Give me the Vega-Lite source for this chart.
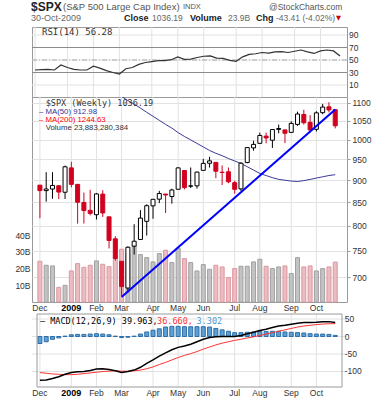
{
"$schema": "https://vega.github.io/schema/vega-lite/v6.json",
"background": "white",
"padding": {"left": 14, "top": 0, "right": 5, "bottom": 2},
"bounds": "flush",
"spacing": 0,
"config": {
  "font": "Liberation Sans",
  "view": {"stroke": "#9a9a9a", "strokeWidth": 1},
  "axis": {"labelFont": "Liberation Sans", "labelFontSize": 8.5, "labelColor": "#333", "gridColor": "#e2e2e2", "gridWidth": 1, "domain": false, "ticks": false, "labelOverlap": false}
},
"datasets": {
"weekly": [
{"week":"2008/12/01","open":888.6,"high":888.6,"low":815.7,"close":876.1,"chg":-20.2,"volume_bn":24.4,"ma50":1262,"rsi":34,"macd":-125,"signal":-103,"hist":-20},
{"week":"2008/12/08","open":876.1,"high":918.9,"low":851.4,"close":879.7,"chg":3.6,"volume_bn":22.0,"ma50":1252,"rsi":34.5,"macd":-124,"signal":-105,"hist":-15},
{"week":"2008/12/15","open":879.7,"high":918.9,"low":857.7,"close":887.9,"chg":8.2,"volume_bn":21.6,"ma50":1242,"rsi":35,"macd":-120,"signal":-107,"hist":-8},
{"week":"2008/12/22","open":887.2,"high":887.4,"low":857.1,"close":872.8,"chg":-15.1,"volume_bn":8.8,"ma50":1232,"rsi":34,"macd":-115,"signal":-108,"hist":-4},
{"week":"2008/12/29","open":872.4,"high":934.7,"low":857.3,"close":931.8,"chg":59.0,"volume_bn":10.0,"ma50":1222,"rsi":42,"macd":-108,"signal":-109,"hist":1},
{"week":"2009/01/05","open":929.2,"high":943.9,"low":883.5,"close":890.4,"chg":-41.4,"volume_bn":18.6,"ma50":1212,"rsi":38,"macd":-103,"signal":-109,"hist":5},
{"week":"2009/01/12","open":890.4,"high":890.4,"low":804.3,"close":850.1,"chg":-40.3,"volume_bn":23.0,"ma50":1200,"rsi":35,"macd":-101,"signal":-108,"hist":6},
{"week":"2009/01/19","open":849.6,"high":871.7,"low":804.5,"close":832.0,"chg":-18.1,"volume_bn":20.8,"ma50":1189,"rsi":34,"macd":-100,"signal":-106,"hist":6},
{"week":"2009/01/26","open":832.5,"high":877.9,"low":821.7,"close":825.9,"chg":-6.1,"volume_bn":22.0,"ma50":1177,"rsi":34,"macd":-97,"signal":-104,"hist":7},
{"week":"2009/02/02","open":823.1,"high":870.8,"low":812.9,"close":868.6,"chg":42.7,"volume_bn":24.6,"ma50":1166,"rsi":40,"macd":-93,"signal":-102,"hist":8},
{"week":"2009/02/09","open":868.2,"high":877.0,"low":818.4,"close":826.8,"chg":-41.8,"volume_bn":22.6,"ma50":1155,"rsi":37,"macd":-92,"signal":-100,"hist":7},
{"week":"2009/02/16","open":818.6,"high":818.6,"low":754.3,"close":770.1,"chg":-56.7,"volume_bn":21.2,"ma50":1144,"rsi":33,"macd":-94,"signal":-99,"hist":5},
{"week":"2009/02/23","open":773.3,"high":778.7,"low":731.0,"close":735.1,"chg":-35.0,"volume_bn":27.0,"ma50":1130,"rsi":30,"macd":-98,"signal":-98,"hist":1},
{"week":"2009/03/02","open":729.6,"high":729.6,"low":666.8,"close":683.4,"chg":-51.7,"volume_bn":31.6,"ma50":1118,"rsi":27.5,"macd":-103,"signal":-99,"hist":-3},
{"week":"2009/03/09","open":680.8,"high":758.3,"low":672.9,"close":756.6,"chg":73.2,"volume_bn":29.0,"ma50":1106,"rsi":36,"macd":-100,"signal":-99,"hist":-2},
{"week":"2009/03/16","open":758.8,"high":803.0,"low":742.4,"close":768.5,"chg":11.9,"volume_bn":33.5,"ma50":1096,"rsi":38,"macd":-96,"signal":-98,"hist":1},
{"week":"2009/03/23","open":772.0,"high":832.9,"low":772.0,"close":815.9,"chg":47.4,"volume_bn":28.4,"ma50":1085,"rsi":43,"macd":-88,"signal":-96,"hist":7},
{"week":"2009/03/30","open":809.1,"high":845.6,"low":779.8,"close":842.5,"chg":26.6,"volume_bn":26.6,"ma50":1073,"rsi":46,"macd":-77,"signal":-92,"hist":13},
{"week":"2009/04/06","open":842.2,"high":856.6,"low":814.5,"close":856.6,"chg":14.1,"volume_bn":24.0,"ma50":1062,"rsi":47.5,"macd":-67,"signal":-87,"hist":18},
{"week":"2009/04/13","open":856.9,"high":875.6,"low":848.2,"close":869.6,"chg":13.0,"volume_bn":29.0,"ma50":1051,"rsi":49,"macd":-56,"signal":-80,"hist":22},
{"week":"2009/04/20","open":868.3,"high":868.3,"low":826.8,"close":866.2,"chg":-3.4,"volume_bn":31.0,"ma50":1040,"rsi":49,"macd":-47,"signal":-74,"hist":27},
{"week":"2009/04/27","open":862.8,"high":880.4,"low":847.1,"close":877.5,"chg":11.3,"volume_bn":23.6,"ma50":1030,"rsi":50.5,"macd":-38,"signal":-67,"hist":29},
{"week":"2009/05/04","open":879.2,"high":930.2,"low":879.2,"close":929.2,"chg":51.7,"volume_bn":32.3,"ma50":1018,"rsi":55,"macd":-31,"signal":-60,"hist":29},
{"week":"2009/05/11","open":922.9,"high":922.9,"low":878.9,"close":882.9,"chg":-46.3,"volume_bn":26.0,"ma50":1008,"rsi":51,"macd":-27,"signal":-54,"hist":28},
{"week":"2009/05/18","open":886.1,"high":930.2,"low":882.0,"close":887.0,"chg":4.1,"volume_bn":23.6,"ma50":999,"rsi":51.5,"macd":-22,"signal":-49,"hist":28},
{"week":"2009/05/25","open":887.0,"high":920.0,"low":880.7,"close":919.1,"chg":32.1,"volume_bn":18.6,"ma50":990,"rsi":54,"macd":-15,"signal":-43,"hist":28},
{"week":"2009/06/01","open":923.3,"high":951.1,"low":923.3,"close":940.1,"chg":21.0,"volume_bn":22.4,"ma50":981,"rsi":56,"macd":-8,"signal":-36,"hist":28},
{"week":"2009/06/08","open":940.4,"high":956.2,"low":930.0,"close":946.2,"chg":6.1,"volume_bn":19.6,"ma50":972,"rsi":56.5,"macd":-3,"signal":-30,"hist":27},
{"week":"2009/06/15","open":942.5,"high":942.5,"low":904.8,"close":921.2,"chg":-25.0,"volume_bn":22.0,"ma50":965,"rsi":53,"macd":-1,"signal":-24,"hist":23},
{"week":"2009/06/22","open":918.1,"high":935.0,"low":888.9,"close":918.9,"chg":-2.3,"volume_bn":21.0,"ma50":959,"rsi":52.5,"macd":0,"signal":-19,"hist":19},
{"week":"2009/06/29","open":919.9,"high":930.1,"low":893.0,"close":896.4,"chg":-22.5,"volume_bn":14.6,"ma50":952,"rsi":49.5,"macd":0,"signal":-15,"hist":15},
{"week":"2009/07/06","open":894.3,"high":898.7,"low":869.3,"close":879.1,"chg":-17.3,"volume_bn":20.0,"ma50":946,"rsi":48,"macd":0,"signal":-11,"hist":11},
{"week":"2009/07/13","open":880.0,"high":943.0,"low":875.3,"close":940.4,"chg":61.3,"volume_bn":21.4,"ma50":940,"rsi":55,"macd":3,"signal":-8,"hist":11},
{"week":"2009/07/20","open":942.1,"high":979.8,"low":940.6,"close":979.3,"chg":38.9,"volume_bn":21.4,"ma50":932,"rsi":59,"macd":8,"signal":-4,"hist":12},
{"week":"2009/07/27","open":978.6,"high":996.7,"low":971.5,"close":987.5,"chg":8.2,"volume_bn":24.0,"ma50":924,"rsi":60,"macd":12,"signal":-1,"hist":13},
{"week":"2009/08/03","open":990.2,"high":1018.0,"low":990.2,"close":1010.5,"chg":23.0,"volume_bn":25.6,"ma50":916,"rsi":62,"macd":17,"signal":3,"hist":14},
{"week":"2009/08/10","open":1008.9,"high":1018.0,"low":990.2,"close":1004.1,"chg":-6.4,"volume_bn":21.4,"ma50":911,"rsi":61,"macd":21,"signal":7,"hist":14},
{"week":"2009/08/17","open":998.2,"high":1027.6,"low":978.5,"close":1026.1,"chg":22.0,"volume_bn":20.0,"ma50":906,"rsi":63,"macd":26,"signal":11,"hist":15},
{"week":"2009/08/24","open":1026.6,"high":1039.5,"low":1016.2,"close":1028.9,"chg":2.8,"volume_bn":21.0,"ma50":902,"rsi":63.5,"macd":30,"signal":15,"hist":15},
{"week":"2009/08/31","open":1025.2,"high":1025.2,"low":991.0,"close":1016.4,"chg":-12.5,"volume_bn":21.6,"ma50":900,"rsi":62,"macd":32,"signal":19,"hist":13},
{"week":"2009/09/07","open":1018.7,"high":1048.2,"low":1017.7,"close":1042.7,"chg":26.3,"volume_bn":17.0,"ma50":898,"rsi":64,"macd":35,"signal":23,"hist":12},
{"week":"2009/09/14","open":1040.0,"high":1074.8,"low":1036.1,"close":1068.3,"chg":25.6,"volume_bn":26.6,"ma50":897,"rsi":66,"macd":38,"signal":27,"hist":11},
{"week":"2009/09/21","open":1067.1,"high":1080.2,"low":1039.3,"close":1044.4,"chg":-23.9,"volume_bn":21.0,"ma50":899,"rsi":63,"macd":40,"signal":30,"hist":10},
{"week":"2009/09/28","open":1045.4,"high":1065.1,"low":1019.0,"close":1025.2,"chg":-19.2,"volume_bn":21.6,"ma50":902,"rsi":60.5,"macd":40,"signal":32,"hist":8},
{"week":"2009/10/05","open":1026.9,"high":1076.0,"low":1020.9,"close":1071.5,"chg":46.3,"volume_bn":18.6,"ma50":905,"rsi":64.5,"macd":41,"signal":34,"hist":7},
{"week":"2009/10/12","open":1072.0,"high":1096.6,"low":1067.6,"close":1087.7,"chg":16.2,"volume_bn":20.0,"ma50":908,"rsi":66,"macd":42.5,"signal":35.5,"hist":7},
{"week":"2009/10/19","open":1088.4,"high":1101.4,"low":1072.7,"close":1079.6,"chg":-8.1,"volume_bn":21.0,"ma50":911,"rsi":64.5,"macd":42.5,"signal":36.5,"hist":6},
{"week":"2009/10/26","open":1080.4,"high":1081.3,"low":1029.4,"close":1036.2,"chg":-43.4,"volume_bn":23.88,"ma50":912.98,"rsi":56.28,"macd":39.963,"signal":36.66,"hist":3.302}
],
"months": [
{"week":"2008/12/01","label":"Dec"},{"week":"2009/01/05","label":"2009"},{"week":"2009/02/02","label":"Feb"},{"week":"2009/03/02","label":"Mar"},{"week":"2009/04/06","label":"Apr"},{"week":"2009/05/04","label":"May"},{"week":"2009/06/01","label":"Jun"},{"week":"2009/07/06","label":"Jul"},{"week":"2009/08/03","label":"Aug"},{"week":"2009/09/07","label":"Sep"},{"week":"2009/10/05","label":"Oct"}
],
"rsi_levels": [{"level":10},{"level":30},{"level":50},{"level":70},{"level":90}],
"macd_levels": [{"level":50},{"level":0},{"level":-50},{"level":-100}],
"trend": [{"week":"2009/03/02","price":665},{"week":"2009/10/26","price":1081}],
"one": [{}]
},
"vconcat": [
{
 "width": 315, "height": 70,
 "layer": [
  {"data": {"name": "months"}, "mark": {"type": "rule", "color": "#e2e2e2", "strokeWidth": 1},
   "encoding": {"x": {"field": "week", "type": "temporal", "title": null, "axis": null,
      "scale": {"domain": [{"year":2008,"month":11,"date":27,"hours":18},{"year":2009,"month":11,"date":2,"hours":13}]}}}},
  {"data": {"name": "rsi_levels"}, "mark": {"type": "rule", "color": "#e2e2e2", "strokeWidth": 1},
   "encoding": {"y": {"field": "level", "type": "quantitative", "title": null, "axis": null, "scale": {"domain": [-9.2, 102.8], "nice": false, "zero": false}}}},
  {"data": {"values": [{"level": 70}, {"level": 30}]}, "mark": {"type": "rule", "color": "#8c8c8c", "strokeWidth": 1},
   "encoding": {"y": {"field": "level", "type": "quantitative", "title": null}}},
  {"data": {"values": [{"level": 50}]}, "mark": {"type": "rule", "color": "#a8a8a8", "strokeWidth": 1, "strokeDash": [5, 2, 1, 2]},
   "encoding": {"y": {"field": "level", "type": "quantitative", "title": null}}},
  {"data": {"name": "weekly"}, "mark": {"type": "line", "color": "#333333", "strokeWidth": 1.2},
   "encoding": {"x": {"field": "week", "type": "temporal", "title": null}, "y": {"field": "rsi", "type": "quantitative", "title": null}}},
  {"data": {"name": "rsi_levels"}, "mark": {"type": "text", "align": "left", "baseline": "middle", "font": "Liberation Sans", "fontSize": 8.5, "color": "#333"},
   "encoding": {"x": {"datum": {"year":2009,"month":11,"date":4,"hours":17}, "type": "temporal"}, "y": {"field": "level", "type": "quantitative", "title": null}, "text": {"field": "level"}}},
  {"data": {"name": "one"}, "mark": {"type": "text", "align": "left", "baseline": "middle", "font": "DejaVu Sans Mono", "fontSize": 9, "color": "#333"},
   "encoding": {"x": {"datum": {"year":2008,"month":12,"date":8,"hours":13}, "type": "temporal"}, "y": {"datum": 95.3, "type": "quantitative"}, "text": {"value": "RSI(14) 56.28"}}},
  {"data": {"name": "one"}, "mark": {"type": "text", "align": "left", "baseline": "middle", "font": "Liberation Sans", "fontSize": 12, "fontWeight": "bold", "color": "#222"},
   "encoding": {"x": {"datum": {"year":2008,"month":11,"date":26,"hours":16}, "type": "temporal"}, "y": {"datum": 134.8, "type": "quantitative"}, "text": {"value": "$SPX"}}},
  {"data": {"name": "one"}, "mark": {"type": "text", "align": "left", "baseline": "middle", "font": "Liberation Sans", "fontSize": 9.5, "color": "#555"},
   "encoding": {"x": {"datum": {"year":2008,"month":12,"date":31,"hours":5}, "type": "temporal"}, "y": {"datum": 134.8, "type": "quantitative"}, "text": {"value": "(S&P 500 Large Cap Index)"}}},
  {"data": {"name": "one"}, "mark": {"type": "text", "align": "left", "baseline": "middle", "font": "Liberation Sans", "fontSize": 7.5, "color": "#555"},
   "encoding": {"x": {"datum": {"year":2009,"month":5,"date":9,"hours":14}, "type": "temporal"}, "y": {"datum": 134.8, "type": "quantitative"}, "text": {"value": "INDX"}}},
  {"data": {"name": "one"}, "mark": {"type": "text", "align": "left", "baseline": "middle", "font": "Liberation Sans", "fontSize": 8.5, "color": "#555"},
   "encoding": {"x": {"datum": {"year":2009,"month":8,"date":10,"hours":10}, "type": "temporal"}, "y": {"datum": 134.8, "type": "quantitative"}, "text": {"value": "@StockCharts.com"}}},
  {"data": {"name": "one"}, "mark": {"type": "text", "align": "left", "baseline": "middle", "font": "Liberation Sans", "fontSize": 9, "color": "#666"},
   "encoding": {"x": {"datum": {"year":2008,"month":11,"date":26,"hours":16}, "type": "temporal"}, "y": {"datum": 117.2, "type": "quantitative"}, "text": {"value": "30-Oct-2009"}}},
  {"data": {"name": "one"}, "mark": {"type": "text", "align": "left", "baseline": "middle", "font": "Liberation Sans", "fontSize": 9, "fontWeight": "bold", "color": "#222"},
   "encoding": {"x": {"datum": {"year":2009,"month":3,"date":7,"hours":0}, "type": "temporal"}, "y": {"datum": 117.2, "type": "quantitative"}, "text": {"value": "Close"}}},
  {"data": {"name": "one"}, "mark": {"type": "text", "align": "left", "baseline": "middle", "font": "Liberation Sans", "fontSize": 8.5, "color": "#666"},
   "encoding": {"x": {"datum": {"year":2009,"month":4,"date":6,"hours":5}, "type": "temporal"}, "y": {"datum": 117.2, "type": "quantitative"}, "text": {"value": "1036.19"}}},
  {"data": {"name": "one"}, "mark": {"type": "text", "align": "left", "baseline": "middle", "font": "Liberation Sans", "fontSize": 9, "fontWeight": "bold", "color": "#222"},
   "encoding": {"x": {"datum": {"year":2009,"month":5,"date":17,"hours":5}, "type": "temporal"}, "y": {"datum": 117.2, "type": "quantitative"}, "text": {"value": "Volume"}}},
  {"data": {"name": "one"}, "mark": {"type": "text", "align": "left", "baseline": "middle", "font": "Liberation Sans", "fontSize": 8.5, "color": "#666"},
   "encoding": {"x": {"datum": {"year":2009,"month":6,"date":27,"hours":5}, "type": "temporal"}, "y": {"datum": 117.2, "type": "quantitative"}, "text": {"value": "23.9B"}}},
  {"data": {"name": "one"}, "mark": {"type": "text", "align": "left", "baseline": "middle", "font": "Liberation Sans", "fontSize": 9, "fontWeight": "bold", "color": "#222"},
   "encoding": {"x": {"datum": {"year":2009,"month":7,"date":27,"hours":10}, "type": "temporal"}, "y": {"datum": 117.2, "type": "quantitative"}, "text": {"value": "Chg"}}},
  {"data": {"name": "one"}, "mark": {"type": "text", "align": "left", "baseline": "middle", "font": "Liberation Sans", "fontSize": 8.5, "color": "#666"},
   "encoding": {"x": {"datum": {"year":2009,"month":8,"date":17,"hours":22}, "type": "temporal"}, "y": {"datum": 117.2, "type": "quantitative"}, "text": {"value": "-43.41 (-4.02%)"}}},
  {"data": {"name": "one"}, "mark": {"type": "text", "align": "left", "baseline": "middle", "font": "DejaVu Sans", "fontSize": 6.5, "color": "#cc0000"},
   "encoding": {"x": {"datum": {"year":2009,"month":10,"date":21,"hours":14}, "type": "temporal"}, "y": {"datum": 117.2, "type": "quantitative"}, "text": {"value": "▼"}}}
 ]
},
{
 "width": 315, "height": 205,
 "layer": [
  {"layer": [
    {"data": {"name": "months"}, "mark": {"type": "rule", "color": "#e2e2e2", "strokeWidth": 1},
     "encoding": {"x": {"field": "week", "type": "temporal", "title": null, "axis": null,
        "scale": {"domain": [{"year":2008,"month":11,"date":27,"hours":18},{"year":2009,"month":11,"date":2,"hours":13}]}}}},
    {"data": {"name": "weekly"}, "mark": {"type": "bar", "size": 4, "strokeWidth": 1},
     "encoding": {
      "x": {"field": "week", "type": "temporal", "title": null},
      "y": {"field": "volume_bn", "type": "quantitative", "title": null, "scale": {"domain": [0, 122.75], "nice": false, "zero": true},
        "axis": {"orient": "left", "values": [10, 20, 30, 40], "labelExpr": "datum.value + 'B'", "grid": false, "labelPadding": 2, "labelOverlap": false}},
      "fill": {"condition": {"test": "datum.chg < 0", "value": "#ebbcc1"}, "value": "#c3c3c3"},
      "stroke": {"condition": {"test": "datum.chg < 0", "value": "#dc98a0"}, "value": "#a0a0a0"}}}
  ]},
  {"layer": [
    {"data": {"name": "weekly"}, "mark": {"type": "line", "color": "#3a3a9a", "strokeWidth": 1, "clip": true},
     "encoding": {"x": {"field": "week", "type": "temporal", "title": null},
      "y": {"field": "ma50", "type": "quantitative", "title": null, "scale": {"type": "log", "domain": [656.6, 1116.4], "nice": false},
        "axis": {"orient": "right", "values": [700, 750, 800, 850, 900, 950, 1000, 1050, 1100], "format": "d", "grid": true, "ticks": true, "tickSize": 3, "tickColor": "#999", "labelPadding": 2, "labelOverlap": false}}}},
    {"data": {"name": "weekly"}, "mark": {"type": "rule", "strokeWidth": 1},
     "encoding": {"x": {"field": "week", "type": "temporal", "title": null},
      "y": {"field": "low", "type": "quantitative", "title": null}, "y2": {"field": "high"},
      "stroke": {"condition": {"test": "datum.chg < 0", "value": "#d1001f"}, "value": "#000"}}},
    {"data": {"name": "weekly"}, "mark": {"type": "bar", "size": 4, "strokeWidth": 1},
     "encoding": {"x": {"field": "week", "type": "temporal", "title": null},
      "y": {"field": "open", "type": "quantitative", "title": null}, "y2": {"field": "close"},
      "fill": {"condition": [{"test": "datum.close < datum.open && datum.chg < 0", "value": "#d1001f"}, {"test": "datum.close < datum.open", "value": "#000"}], "value": "#ffffff"},
      "stroke": {"condition": {"test": "datum.chg < 0", "value": "#d1001f"}, "value": "#000"}}},
    {"data": {"name": "trend"}, "mark": {"type": "line", "color": "#0000ff", "strokeWidth": 2},
     "encoding": {"x": {"field": "week", "type": "temporal", "title": null}, "y": {"field": "price", "type": "quantitative", "title": null}}},
    {"data": {"name": "months"}, "transform": [{"filter": "datum.label != '2009'"}], "mark": {"type": "text", "baseline": "middle", "align": "center", "font": "Liberation Sans", "fontSize": 8.5, "color": "#333"},
     "encoding": {"x": {"field": "week", "type": "temporal", "title": null}, "y": {"datum": 646.5, "type": "quantitative"}, "text": {"field": "label"}}},
    {"data": {"name": "months"}, "transform": [{"filter": "datum.label == '2009'"}], "mark": {"type": "text", "baseline": "middle", "align": "center", "font": "Liberation Sans", "fontSize": 9, "fontWeight": "bold", "color": "#000"},
     "encoding": {"x": {"field": "week", "type": "temporal", "title": null}, "y": {"datum": 646.5, "type": "quantitative"}, "text": {"field": "label"}}},
    {"data": {"name": "one"}, "mark": {"type": "text", "align": "left", "baseline": "middle", "font": "DejaVu Sans Mono", "fontSize": 8.5, "color": "#333"},
     "encoding": {"x": {"datum": {"year":2008,"month":12,"date":7,"hours":11}, "type": "temporal"}, "y": {"datum": 1099.5, "type": "quantitative"}, "text": {"value": "$SPX (Weekly) 1036.19"}}},
    {"data": {"name": "one"}, "mark": {"type": "text", "align": "left", "baseline": "middle", "font": "Liberation Sans", "fontSize": 7.8, "color": "#333399"},
     "encoding": {"x": {"datum": {"year":2008,"month":11,"date":29,"hours":22}, "type": "temporal"}, "y": {"datum": 1075, "type": "quantitative"}, "text": {"value": "– MA(50) 912.98"}}},
    {"data": {"name": "one"}, "mark": {"type": "text", "align": "left", "baseline": "middle", "font": "Liberation Sans", "fontSize": 7.8, "color": "#ff0000"},
     "encoding": {"x": {"datum": {"year":2008,"month":11,"date":29,"hours":22}, "type": "temporal"}, "y": {"datum": 1052.2, "type": "quantitative"}, "text": {"value": "– MA(200) 1244.63"}}},
    {"data": {"name": "one"}, "mark": {"type": "text", "align": "left", "baseline": "middle", "font": "Liberation Sans", "fontSize": 7.8, "color": "#333"},
     "encoding": {"x": {"datum": {"year":2008,"month":12,"date":7,"hours":11}, "type": "temporal"}, "y": {"datum": 1029.8, "type": "quantitative"}, "text": {"value": "Volume 23,883,280,384"}}}
  ]}
 ],
 "resolve": {"scale": {"y": "independent"}, "axis": {"y": "independent"}}
},
{
 "width": 315, "height": 85,
 "view": {"stroke": null},
 "layer": [
  {"data": {"name": "months"}, "mark": {"type": "rule", "color": "#e2e2e2", "strokeWidth": 1},
   "encoding": {"x": {"field": "week", "type": "temporal", "title": null, "axis": null,
      "scale": {"domain": [{"year":2008,"month":11,"date":27,"hours":18},{"year":2009,"month":11,"date":2,"hours":13}]}},
     "y": {"datum": 64.3, "type": "quantitative", "axis": null, "scale": {"domain": [-144.3, 98.6], "nice": false, "zero": false}}, "y2": {"datum": -144.3}}},
  {"data": {"name": "macd_levels"}, "mark": {"type": "rule", "color": "#e2e2e2", "strokeWidth": 1},
   "encoding": {"y": {"field": "level", "type": "quantitative", "title": null}}},
  {"data": {"name": "weekly"}, "mark": {"type": "bar", "size": 4, "fill": "#5aa0d6", "stroke": "#2d6ea6", "strokeWidth": 1},
   "encoding": {
    "x": {"field": "week", "type": "temporal", "title": null},
    "y": {"field": "hist", "type": "quantitative", "title": null},
    "y2": {"datum": 0}}},
  {"data": {"name": "weekly"}, "mark": {"type": "line", "color": "#ff3333", "strokeWidth": 1},
   "encoding": {"x": {"field": "week", "type": "temporal", "title": null}, "y": {"field": "signal", "type": "quantitative", "title": null}}},
  {"data": {"name": "weekly"}, "mark": {"type": "line", "color": "#000000", "strokeWidth": 1.5},
   "encoding": {"x": {"field": "week", "type": "temporal", "title": null}, "y": {"field": "macd", "type": "quantitative", "title": null}}},
  {"data": {"name": "one"}, "mark": {"type": "rect", "fillOpacity": 0, "stroke": "#9a9a9a", "strokeWidth": 1},
   "encoding": {"x": {"datum": {"year":2008,"month":11,"date":27,"hours":18}, "type": "temporal"}, "x2": {"datum": {"year":2009,"month":11,"date":2,"hours":13}},
     "y": {"datum": 64.3, "type": "quantitative"}, "y2": {"datum": -144.3}}},
  {"data": {"name": "macd_levels"}, "mark": {"type": "text", "align": "left", "baseline": "middle", "font": "Liberation Sans", "fontSize": 8.5, "color": "#333"},
   "encoding": {"x": {"datum": {"year":2009,"month":11,"date":5,"hours":12}, "type": "temporal"}, "y": {"field": "level", "type": "quantitative", "title": null}, "text": {"field": "level"}}},
  {"data": {"name": "months"}, "transform": [{"filter": "datum.label != '2009'"}], "mark": {"type": "text", "baseline": "middle", "align": "center", "font": "Liberation Sans", "fontSize": 8.5, "color": "#333"},
   "encoding": {"x": {"field": "week", "type": "temporal", "title": null}, "y": {"datum": -161.4, "type": "quantitative"}, "text": {"field": "label"}}},
  {"data": {"name": "months"}, "transform": [{"filter": "datum.label == '2009'"}], "mark": {"type": "text", "baseline": "middle", "align": "center", "font": "Liberation Sans", "fontSize": 9, "fontWeight": "bold", "color": "#000"},
   "encoding": {"x": {"field": "week", "type": "temporal", "title": null}, "y": {"datum": -161.4, "type": "quantitative"}, "text": {"field": "label"}}},
  {"data": {"name": "one"}, "mark": {"type": "text", "align": "left", "baseline": "middle", "font": "DejaVu Sans Mono", "fontSize": 8.5, "color": "#000"},
   "encoding": {"x": {"datum": {"year":2008,"month":12,"date":1,"hours":0}, "type": "temporal"}, "y": {"datum": 45.1, "type": "quantitative"}, "text": {"value": "– MACD(12,26,9) 39.963,"}}},
  {"data": {"name": "one"}, "mark": {"type": "text", "align": "left", "baseline": "middle", "font": "DejaVu Sans Mono", "fontSize": 8.5, "color": "#ff3333"},
   "encoding": {"x": {"datum": {"year":2009,"month":4,"date":10,"hours":12}, "type": "temporal"}, "y": {"datum": 45.1, "type": "quantitative"}, "text": {"value": "36.660,"}}},
  {"data": {"name": "one"}, "mark": {"type": "text", "align": "left", "baseline": "middle", "font": "DejaVu Sans Mono", "fontSize": 8.5, "color": "#4d9ad6"},
   "encoding": {"x": {"datum": {"year":2009,"month":5,"date":24,"hours":12}, "type": "temporal"}, "y": {"datum": 45.1, "type": "quantitative"}, "text": {"value": "3.302"}}}
 ]
}
]
}
